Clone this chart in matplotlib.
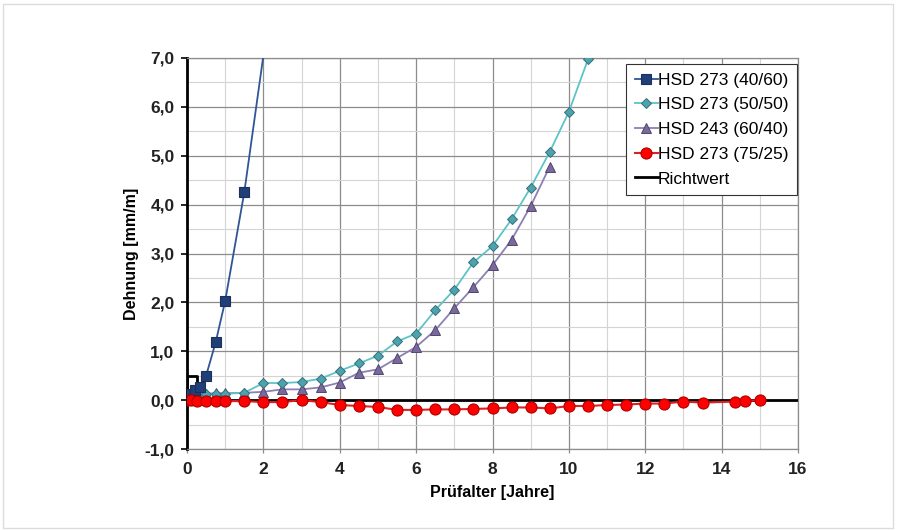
import matplotlib
matplotlib.use("Agg")
import matplotlib.pyplot as plt
from matplotlib.ticker import MultipleLocator, FuncFormatter
from matplotlib.patches import Rectangle

plt.rcParams['font.family'] = ['Liberation Sans', 'DejaVu Sans']

# ---- data ----
x_4060 = [0, 0.1, 0.2, 0.35, 0.5, 0.75, 1.0, 1.5, 2.5]
y_4060 = [0, 0.12, 0.2, 0.27, 0.5, 1.18, 2.03, 4.25, 9.85]

x_5050 = [0, 0.1, 0.25, 0.5, 0.75, 1.0, 1.5, 2.0, 2.5, 3.0, 3.5, 4.0, 4.5, 5.0,
          5.5, 6.0, 6.5, 7.0, 7.5, 8.0, 8.5, 9.0, 9.5, 10.0, 10.5]
y_5050 = [0, 0.06, 0.1, 0.13, 0.13, 0.13, 0.15, 0.35, 0.35, 0.37, 0.44, 0.6, 0.75, 0.91,
          1.2, 1.36, 1.84, 2.26, 2.82, 3.15, 3.7, 4.35, 5.08, 5.9, 6.97]

x_6040 = [0, 0.1, 0.25, 0.5, 0.75, 1.0, 1.5, 2.0, 2.5, 3.0, 3.5, 4.0, 4.5, 5.0,
          5.5, 6.0, 6.5, 7.0, 7.5, 8.0, 8.5, 9.0, 9.5]
y_6040 = [0, 0.05, 0.1, 0.13, 0.14, 0.14, 0.15, 0.17, 0.22, 0.22, 0.26, 0.36, 0.56, 0.63,
          0.86, 1.09, 1.43, 1.88, 2.31, 2.76, 3.28, 3.97, 4.78]

x_7525 = [0, 0.1, 0.25, 0.5, 0.75, 1.0, 1.5, 2.0, 2.5, 3.0, 3.5, 4.0, 4.5, 5.0,
          5.5, 6.0, 6.5, 7.0, 7.5, 8.0, 8.5, 9.0, 9.5, 10.0, 10.5, 11.0, 11.5,
          12.0, 12.5, 13.0, 13.5, 14.35, 14.6, 15.0]
y_7525 = [0, 0, -0.01, -0.02, -0.02, -0.02, -0.02, -0.04, -0.04, 0, -0.04, -0.1, -0.12, -0.14,
          -0.2, -0.2, -0.19, -0.19, -0.18, -0.17, -0.15, -0.15, -0.17, -0.12, -0.12, -0.1, -0.09,
          -0.07, -0.07, -0.03, -0.05, -0.03, -0.02, 0]

x_richt = [0, 0, 0.25, 0.25, 16]
y_richt = [0, 0.5, 0.5, 0, 0]

labels = ["HSD 273 (40/60)", "HSD 273 (50/50)", "HSD 243 (60/40)", "HSD 273 (75/25)", "Richtwert"]
x_ticks = [0, 2, 4, 6, 8, 10, 12, 14, 16]
y_ticks = [-1, 0, 1, 2, 3, 4, 5, 6, 7]

# ---- figure ----
fig = plt.figure(figsize=(9.07, 5.31), dpi=100)
ax = fig.add_axes([187/907, 1-449/531, (798-187)/907, (449-58)/531])

fig.patches.append(Rectangle((3/907, 3/531), 890/907, 524/531, transform=fig.transFigure,
                             fill=False, edgecolor='#dcdcdc', linewidth=1))

ax.plot(x_4060, y_4060, color='#2f5597', lw=1.3, marker='s', ms=7.5,
        mfc='#203f78', mec='#1a2f5a', mew=0.8, label=labels[0], zorder=6)
ax.plot(x_5050, y_5050, color='#5cc4c8', lw=1.3, marker='D', ms=5.5,
        mfc='#4aa3ae', mec='#3a6f78', mew=0.7, label=labels[1], zorder=5)
ax.plot(x_6040, y_6040, color='#8d7fb3', lw=1.3, marker='^', ms=7.5,
        mfc='#7a6a9c', mec='#50456e', mew=0.7, label=labels[2], zorder=4)
ax.plot(x_7525, y_7525, color='#e02020', lw=1.5, marker='o', ms=8,
        mfc='#ff0000', mec='#b00000', mew=0.8, label=labels[3], zorder=7)
ax.plot(x_richt, y_richt, color='black', lw=2, label=labels[4], zorder=3)

ax.set_xlim(0, 16)
ax.set_ylim(-1, 7)
ax.set_xticks(x_ticks)
ax.set_yticks(y_ticks)
ax.xaxis.set_minor_locator(MultipleLocator(1))
ax.yaxis.set_minor_locator(MultipleLocator(0.5))
ax.yaxis.set_major_formatter(FuncFormatter(lambda v, p: f"{v:.1f}".replace('.', ',')))
ax.grid(which='major', color='#8c8c8c', lw=0.9, zorder=0)
ax.grid(which='minor', color='#d4d4d4', lw=0.8, zorder=0)
ax.set_axisbelow(True)

for s in ['top', 'right', 'bottom']:
    ax.spines[s].set_color('#8c8c8c')
    ax.spines[s].set_linewidth(0.9)
ax.spines['left'].set_color('black')
ax.spines['left'].set_linewidth(2)

ax.tick_params(axis='y', which='major', length=4, width=1.2, color='black', pad=5)
ax.tick_params(axis='x', which='major', length=3, width=0.9, color='#8c8c8c', pad=6)
ax.tick_params(which='minor', length=0)
for lab in ax.get_xticklabels() + ax.get_yticklabels():
    lab.set_fontsize(12.5)
    lab.set_fontweight('bold')
    lab.set_color('#222222')

ax.set_xlabel("Prüfalter [Jahre]", fontsize=11.5, fontweight='bold', labelpad=6)
ax.set_ylabel("Dehnung [mm/m]", fontsize=11.5, fontweight='bold', labelpad=4)

leg = ax.legend(loc='upper right', bbox_to_anchor=(0.998, 0.985), frameon=True, fancybox=False,
                edgecolor='#333333', framealpha=1, fontsize=12.5, handlelength=1.3,
                handletextpad=0.0, borderpad=0.5, labelspacing=0.55, borderaxespad=0)
leg.get_frame().set_linewidth(0.8)

fig.savefig("out.png", dpi=100)
